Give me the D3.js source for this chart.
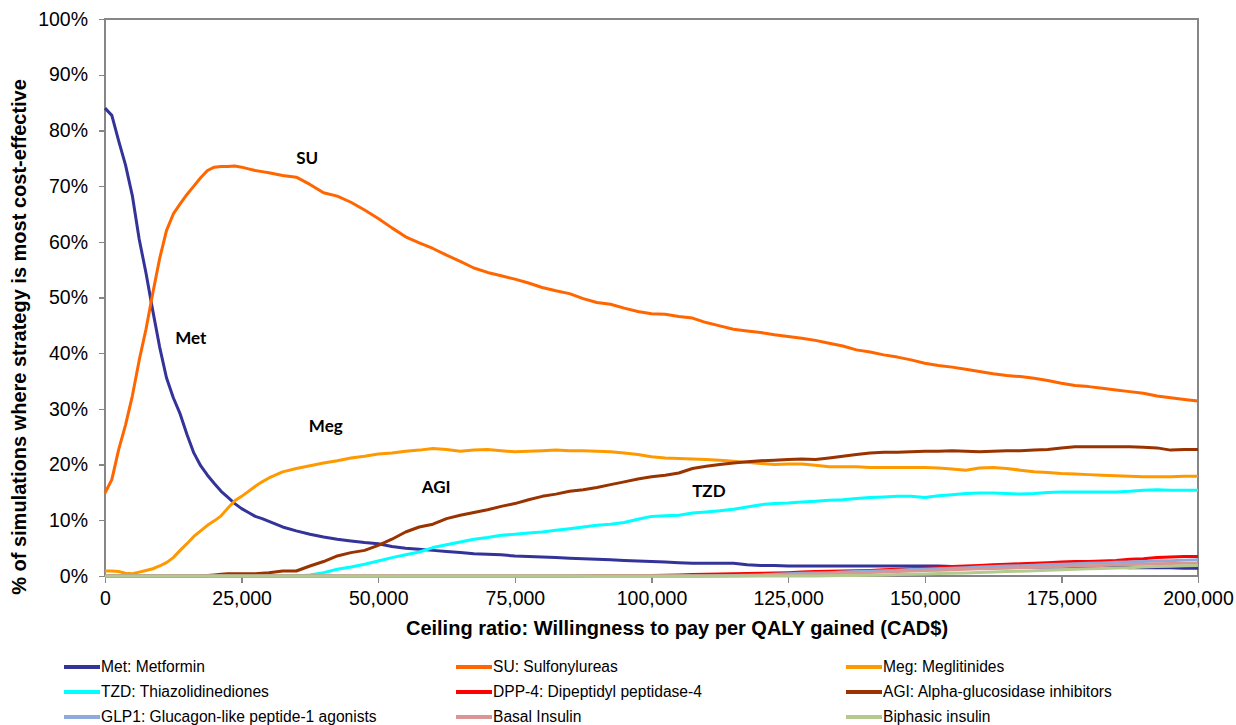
<!DOCTYPE html>
<html>
<head>
<meta charset="utf-8">
<title>Cost-effectiveness acceptability curves</title>
<script src="https://cdn.jsdelivr.net/npm/d3@7"></script>
<style>
  body { margin: 0; background: #fff; }
  .axis text { font-family: "Liberation Sans", Arial, sans-serif; font-size: 19.5px; fill: #000; }
  .axis path, .axis line { stroke: #868686; stroke-width: 1.3; shape-rendering: crispEdges; }
  .title { font-family: "Liberation Sans", Arial, sans-serif; font-weight: bold; font-size: 20px; }
  .note { font-family: Lato, "Open Sans", sans-serif; font-weight: bold; font-size: 17px; }
  .legend text { font-family: "Liberation Sans", Arial, sans-serif; font-size: 15.6px; }
</style>
</head>
<body>
<script>
// ceiling ratio (CAD$) -- finer steps up to 30,000 then every 2,500
var ceiling = [
  0, 1250, 2500, 3750, 5000, 6250, 7500, 8750, 10000, 11250, 12500, 13750, 15000,
  16250, 17500, 18750, 20000, 21250, 22500, 23750, 25000, 26250, 27500, 28750, 30000,
  32500, 35000, 37500, 40000, 42500, 45000, 47500, 50000, 52500, 55000, 57500, 60000,
  62500, 65000, 67500, 70000, 72500, 75000, 77500, 80000, 82500, 85000, 87500, 90000,
  92500, 95000, 97500, 100000, 102500, 105000, 107500, 110000, 112500, 115000, 117500, 120000,
  122500, 125000, 127500, 130000, 132500, 135000, 137500, 140000, 142500, 145000, 147500, 150000,
  152500, 155000, 157500, 160000, 162500, 165000, 167500, 170000, 172500, 175000, 177500, 180000,
  182500, 185000, 187500, 190000, 192500, 195000, 197500, 200000
];

// % of simulations where each strategy is most cost-effective
var met = [
  84, 82.7, 78.1, 73.8, 68.3, 60.5, 54.4, 47.6, 41.1, 35.6, 32, 29.1, 25.4,
  22.1, 19.8, 18.1, 16.6, 15.2, 14.1, 13, 12.1, 11.4, 10.7, 10.3, 9.8,
  8.8, 8.1, 7.5, 7.0, 6.6, 6.3, 6.0, 5.8, 5.3, 5.0, 4.8, 4.6,
  4.4, 4.2, 4.0, 3.9, 3.8, 3.6, 3.5, 3.4, 3.3, 3.2, 3.1, 3.0,
  2.9, 2.8, 2.7, 2.6, 2.5, 2.4, 2.3, 2.3, 2.3, 2.3, 2.0, 1.9,
  1.9, 1.8, 1.8, 1.8, 1.8, 1.8, 1.8, 1.8, 1.8, 1.8, 1.8, 1.8,
  1.8, 1.7, 1.7, 1.7, 1.7, 1.7, 1.7, 1.6, 1.6, 1.6, 1.6, 1.6,
  1.6, 1.6, 1.5, 1.5, 1.5, 1.5, 1.4, 1.4
];
var su = [
  14.9, 17.3, 22.7, 27.1, 32.3, 38.7, 44.3, 50.8, 57, 62, 65, 66.8, 68.5,
  70, 71.5, 72.8, 73.4, 73.5, 73.5, 73.6, 73.4, 73.1, 72.8, 72.6, 72.4,
  71.9, 71.6, 70.3, 68.8, 68.2, 67.1, 65.7, 64.2, 62.5, 60.9, 59.8, 58.8,
  57.6, 56.5, 55.3, 54.5, 53.9, 53.3, 52.6, 51.8, 51.2, 50.7, 49.8, 49.1,
  48.8, 48.1, 47.5, 47.1, 47, 46.6, 46.3, 45.5, 44.9, 44.3, 44.0, 43.7,
  43.3, 43, 42.7, 42.3, 41.8, 41.3, 40.6, 40.2, 39.7, 39.3, 38.8, 38.2,
  37.8, 37.5, 37.1, 36.7, 36.3, 36.0, 35.8, 35.5, 35.1, 34.6, 34.2, 34.0,
  33.7, 33.4, 33.1, 32.8, 32.3, 32.0, 31.7, 31.4
];
var meg = [
  0.9, 0.9, 0.8, 0.5, 0.4, 0.7, 1.0, 1.3, 1.8, 2.4, 3.3, 4.6, 5.8,
  7.1, 8.1, 9.1, 9.9, 10.8, 12.2, 13.5, 14.3, 15.2, 16.1, 16.9, 17.6,
  18.7, 19.3, 19.8, 20.3, 20.7, 21.2, 21.5, 21.9, 22.1, 22.4, 22.6, 22.9,
  22.7, 22.4, 22.6, 22.7, 22.5, 22.3, 22.4, 22.5, 22.6, 22.5, 22.5, 22.4,
  22.3, 22.1, 21.8, 21.4, 21.2, 21.1, 21.0, 20.9, 20.8, 20.6, 20.4, 20.2,
  20.0, 20.1, 20.1, 19.9, 19.6, 19.6, 19.6, 19.5, 19.5, 19.5, 19.5, 19.5,
  19.4, 19.2, 19.0, 19.4, 19.5, 19.3, 19.0, 18.7, 18.6, 18.4, 18.3, 18.2,
  18.1, 18.0, 17.9, 17.8, 17.8, 17.8, 17.9, 17.9
];
var tzd = [
  0, 0, 0, 0, 0, 0, 0, 0, 0, 0, 0, 0, 0,
  0, 0, 0, 0, 0, 0, 0, 0, 0, 0, 0, 0,
  0, 0, 0.2, 0.6, 1.2, 1.6, 2.1, 2.7, 3.3, 3.8, 4.3, 5.1,
  5.6, 6.1, 6.6, 6.9, 7.3, 7.5, 7.7, 7.9, 8.2, 8.5, 8.8, 9.1,
  9.3, 9.6, 10.2, 10.7, 10.8, 10.9, 11.3, 11.5, 11.7, 12.0, 12.4, 12.8,
  13.0, 13.1, 13.3, 13.4, 13.6, 13.7, 13.9, 14.1, 14.2, 14.3, 14.3, 14.1,
  14.4, 14.6, 14.8, 14.9, 14.9, 14.8, 14.7, 14.8, 15.0, 15.1, 15.1, 15.1,
  15.1, 15.1, 15.2, 15.4, 15.5, 15.4, 15.4, 15.4
];
var dpp4 = [
  0, 0, 0, 0, 0, 0, 0, 0, 0, 0, 0, 0, 0,
  0, 0, 0, 0, 0, 0, 0, 0, 0, 0, 0, 0,
  0, 0, 0, 0, 0, 0, 0, 0, 0, 0, 0, 0,
  0, 0, 0, 0, 0, 0, 0, 0, 0, 0, 0.05, 0.1,
  0.1, 0.1, 0.1, 0.1, 0.15, 0.2, 0.25, 0.3, 0.35, 0.4, 0.45, 0.5,
  0.55, 0.6, 0.7, 0.8, 0.85, 0.9, 0.95, 1.0, 1.1, 1.2, 1.3, 1.4,
  1.5, 1.7, 1.8, 1.9, 2.0, 2.1, 2.2, 2.3, 2.4, 2.5, 2.6, 2.6,
  2.7, 2.8, 3.0, 3.1, 3.3, 3.4, 3.5, 3.5
];
var agi = [
  0, 0, 0, 0, 0, 0, 0, 0, 0, 0, 0, 0, 0,
  0, 0, 0.1, 0.2, 0.3, 0.4, 0.4, 0.4, 0.4, 0.4, 0.5, 0.6,
  0.9, 0.9, 1.8, 2.6, 3.6, 4.2, 4.6, 5.5, 6.6, 7.9, 8.8, 9.3,
  10.3, 10.9, 11.4, 11.9, 12.5, 13.0, 13.7, 14.3, 14.7, 15.2, 15.5, 15.9,
  16.4, 16.9, 17.4, 17.8, 18.1, 18.5, 19.3, 19.7, 20.0, 20.3, 20.5, 20.7,
  20.8, 20.9, 21.0, 20.9, 21.2, 21.5, 21.8, 22.1, 22.2, 22.2, 22.3, 22.4,
  22.4, 22.5, 22.4, 22.3, 22.4, 22.5, 22.5, 22.6, 22.7, 23.0, 23.2, 23.2,
  23.2, 23.2, 23.2, 23.1, 23.0, 22.6, 22.7, 22.7
];
var glp1 = [
  0, 0, 0, 0, 0, 0, 0, 0, 0, 0, 0, 0, 0,
  0, 0, 0, 0, 0, 0, 0, 0, 0, 0, 0, 0,
  0, 0, 0, 0, 0, 0, 0, 0, 0, 0, 0, 0,
  0, 0, 0, 0, 0, 0, 0, 0, 0, 0, 0, 0,
  0, 0, 0, 0, 0, 0, 0, 0, 0.05, 0.1, 0.15, 0.2,
  0.3, 0.4, 0.5, 0.55, 0.6, 0.7, 0.8, 0.85, 0.95, 1.05, 1.15, 1.2,
  1.3, 1.4, 1.5, 1.6, 1.7, 1.8, 1.85, 1.95, 2.05, 2.1, 2.2, 2.3,
  2.35, 2.45, 2.5, 2.6, 2.7, 2.75, 2.85, 2.9
];
var basal = [
  0, 0, 0, 0, 0, 0, 0, 0, 0, 0, 0, 0, 0,
  0, 0, 0, 0, 0, 0, 0, 0, 0, 0, 0, 0,
  0, 0, 0, 0, 0, 0, 0, 0, 0, 0, 0, 0,
  0, 0, 0, 0, 0, 0, 0, 0, 0, 0, 0, 0,
  0, 0, 0, 0, 0, 0, 0, 0, 0, 0, 0.05, 0.1,
  0.15, 0.2, 0.3, 0.35, 0.4, 0.5, 0.6, 0.65, 0.7, 0.8, 0.9, 1.0,
  1.05, 1.1, 1.2, 1.3, 1.35, 1.4, 1.5, 1.55, 1.65, 1.7, 1.8, 1.85,
  1.9, 2.0, 2.05, 2.1, 2.2, 2.25, 2.3, 2.3
];
var biphasic = [
  0, 0, 0, 0, 0, 0, 0, 0, 0, 0, 0, 0, 0,
  0, 0, 0, 0, 0, 0, 0, 0, 0, 0, 0, 0,
  0, 0, 0, 0, 0, 0, 0, 0, 0, 0, 0, 0,
  0, 0, 0, 0, 0, 0, 0, 0, 0, 0, 0, 0,
  0, 0, 0, 0, 0, 0, 0, 0, 0, 0, 0, 0,
  0, 0, 0, 0, 0.05, 0.1, 0.1, 0.15, 0.2, 0.25, 0.3, 0.35,
  0.45, 0.5, 0.55, 0.65, 0.7, 0.8, 0.85, 0.95, 1.05, 1.1, 1.2, 1.3,
  1.35, 1.45, 1.5, 1.6, 1.7, 1.75, 1.85, 1.9
];

var names = ["Met: Metformin", "SU: Sulfonylureas", "Meg: Meglitinides",
             "TZD: Thiazolidinediones", "DPP-4: Dipeptidyl peptidase-4", "AGI: Alpha-glucosidase inhibitors",
             "GLP1: Glucagon-like peptide-1 agonists", "Basal Insulin", "Biphasic insulin"];
var colors = ["#333399", "#ff6600", "#ff9900", "#00ffff", "#ff0000", "#993300", "#8eaadb", "#d99694", "#b3c98f"];
var values = [met, su, meg, tzd, dpp4, agi, glp1, basal, biphasic];

var xTicks = [0, 25000, 50000, 75000, 100000, 125000, 150000, 175000, 200000];
var yTicks = [0, 10, 20, 30, 40, 50, 60, 70, 80, 90, 100];

// curve labels placed at (ceiling, %)
var notes = [
  {text: "SU", x: 37000, y: 75},
  {text: "Met", x: 15700, y: 42.7},
  {text: "Meg", x: 40400, y: 26.9},
  {text: "AGI", x: 60600, y: 16},
  {text: "TZD", x: 110500, y: 15.3}
];

var W = 1236, H = 725;
var margin = {top: 19, right: 38, bottom: 149, left: 105};
var width = W - margin.left - margin.right,
    height = H - margin.top - margin.bottom;

var svg = d3.select("body").append("svg")
    .attr("width", W)
    .attr("height", H);

var g = svg.append("g")
    .attr("transform", "translate(" + margin.left + "," + margin.top + ")");

var x = d3.scaleLinear().domain([0, 200000]).range([0, width]);
var y = d3.scaleLinear().domain([0, 100]).range([height, 0]);

// plot frame
g.append("rect")
    .attr("x", 0).attr("y", 0)
    .attr("width", width).attr("height", height)
    .attr("fill", "none")
    .attr("stroke", "#868686")
    .attr("stroke-width", 1.3)
    .attr("shape-rendering", "crispEdges");

g.append("g")
    .attr("class", "axis")
    .attr("transform", "translate(0," + height + ")")
    .call(d3.axisBottom(x).tickValues(xTicks).tickSize(7).tickSizeOuter(0).tickPadding(8)
        .tickFormat(d3.format(",")));

g.append("g")
    .attr("class", "axis")
    .call(d3.axisLeft(y).tickValues(yTicks).tickSize(6).tickSizeOuter(0).tickPadding(11)
        .tickFormat(function(d) { return d + "%"; }));

var line = d3.line()
    .x(function(d, i) { return x(ceiling[i]); })
    .y(function(d) { return y(d); });

g.selectAll(".series")
    .data(values)
    .enter().append("path")
    .attr("class", "series")
    .attr("fill", "none")
    .attr("stroke", function(d, i) { return colors[i]; })
    .attr("stroke-width", 3)
    .attr("stroke-linejoin", "round")
    .attr("d", line);

g.selectAll(".note")
    .data(notes)
    .enter().append("text")
    .attr("class", "note")
    .attr("x", function(d) { return x(d.x); })
    .attr("y", function(d) { return y(d.y); })
    .attr("text-anchor", "middle")
    .attr("dy", "0.35em")
    .text(function(d) { return d.text; });

// axis titles
svg.append("text")
    .attr("class", "title")
    .attr("x", 677)
    .attr("y", 635)
    .attr("text-anchor", "middle")
    .text("Ceiling ratio: Willingness to pay per QALY gained (CAD$)");

svg.append("text")
    .attr("class", "title")
    .attr("text-anchor", "middle")
    .attr("transform", "translate(26,337)rotate(-90)")
    .text("% of simulations where strategy is most cost-effective");

// legend, three columns
var legend = svg.append("g").attr("class", "legend");
var colX = [64, 456, 846], rowY = [667, 692, 717];

var item = legend.selectAll("g")
    .data(names)
    .enter().append("g")
    .attr("transform", function(d, i) {
        return "translate(" + colX[i % 3] + "," + rowY[Math.floor(i / 3)] + ")";
    });

item.append("line")
    .attr("x1", 0).attr("x2", 36)
    .attr("y1", 0).attr("y2", 0)
    .attr("stroke", function(d, i) { return colors[i]; })
    .attr("stroke-width", 4);

item.append("text")
    .attr("x", 37)
    .attr("dy", "0.35em")
    .text(function(d) { return d; });
</script>
</body>
</html>
